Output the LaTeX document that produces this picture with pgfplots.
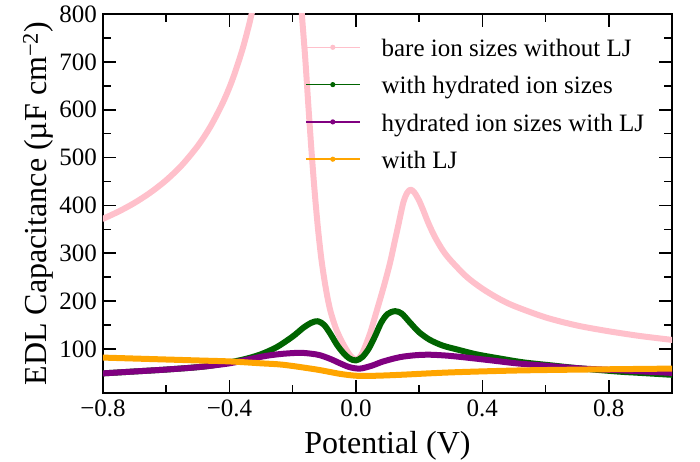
\documentclass[border=0pt]{standalone}
\usepackage{fontspec}
\setmainfont{Liberation Serif}
\usepackage{pgfplots}
\pgfplotsset{compat=1.18}
\definecolor{cpink}{RGB}{255,192,203}
\definecolor{cgreen}{RGB}{0,100,0}
\definecolor{cpurple}{RGB}{128,0,128}
\definecolor{corange}{RGB}{255,165,0}
\begin{document}
\begin{tikzpicture}
\begin{axis}[
  at={(0pt,0pt)}, anchor=south west,
  scale only axis, width=569pt, height=379pt,
  xmin=-0.8, xmax=1.0, ymin=8, ymax=800,
  xtick={-0.8,-0.4,0,0.4,0.8},
  xticklabels={−0.8,−0.4,0.0,0.4,0.8},
  minor xtick={-0.6,-0.2,0.2,0.6,1.0},
  ytick={100,200,300,400,500,600,700,800},
  yticklabels={100,200,300,400,500,600,700,800},
  minor ytick={50,150,250,350,450,550,650,750},
  tick align=inside,
  major tick length=13pt, minor tick length=8pt,
  every tick/.style={black, line width=1.6pt},
  axis line style={line width=1.2pt},
  tick label style={font=\fontsize{25}{30}\selectfont},
  xticklabel style={anchor=north, inner sep=0pt, yshift=-7pt},
  yticklabel style={anchor=east, inner sep=0pt, xshift=-6pt},
  xlabel={Potential (V)},
  ylabel={EDL Capacitance (µF cm\textsuperscript{−2})},
  label style={font=\fontsize{32}{37}\selectfont},
  xlabel style={at={(axis description cs:0.5,-0.159)}, anchor=base},
  ylabel style={at={(axis description cs:-0.0985,0.5)}, anchor=base},
  legend cell align=left,
  legend style={at={(axis description cs:0.355,0.9377)}, anchor=north west,
    draw=none, fill=none, inner sep=0pt, outer sep=0pt,
    row sep=17.9pt, column sep=21pt,
    font=\fontsize{25}{30}\selectfont,
    nodes={inner sep=0pt, text height=19pt, text depth=0.4pt}},
  legend image code/.code={
    \draw[line width=1.6pt, line cap=butt] (0pt,0pt) -- (54pt,0pt);
    \path[draw=none, fill] (27pt,0pt) circle (2.6pt);
  },
  every axis plot/.append style={line width=6pt, line join=round, line cap=round, no markers, smooth, tension=0.5},
]
% bare ion sizes without LJ, left branch
\addplot[color=cpink, forget plot] coordinates {
(-0.800,372.0) (-0.750,387.4) (-0.700,405.4) (-0.650,426.9) (-0.600,452.7)
(-0.550,484.5) (-0.500,524.5) (-0.460,564.9) (-0.420,615.9) (-0.390,663.8)
(-0.360,723.5) (-0.340,772.2) (-0.330,799.9) (-0.320,830.0)
};
% bare ion sizes without LJ, right branch
\addplot[color=cpink] coordinates {
(-0.175,840) (-0.171,800) (-0.160,705) (-0.150,605) (-0.140,510) (-0.130,425)
(-0.120,352) (-0.110,292) (-0.100,246) (-0.090,208) (-0.080,178) (-0.065,146)
(-0.050,123) (-0.035,104) (-0.020,88) (-0.010,81) (0.000,78) (0.010,81)
(0.023,95) (0.045,133) (0.066,180) (0.088,230) (0.108,280) (0.122,322)
(0.134,358) (0.150,406) (0.162,426) (0.173,433) (0.185,427) (0.200,410)
(0.213,390) (0.230,362) (0.250,334) (0.275,306) (0.300,285) (0.350,251)
(0.400,226) (0.450,206) (0.500,190) (0.600,166) (0.700,149) (0.800,137)
(0.900,127) (1.000,119)
};
\addlegendentry{bare ion sizes without LJ}
% with hydrated ion sizes
\addplot[color=cgreen] coordinates {
(-0.800,49) (-0.700,53) (-0.600,57) (-0.500,62) (-0.450,66) (-0.400,72)
(-0.350,79) (-0.300,89) (-0.250,104) (-0.200,126) (-0.165,145) (-0.140,155)
(-0.120,158) (-0.100,150) (-0.080,131) (-0.060,109) (-0.040,92) (-0.020,80)
(0.000,76) (0.020,83) (0.040,100) (0.060,126) (0.080,155) (0.100,173)
(0.124,179) (0.145,174) (0.170,156) (0.200,135) (0.234,119) (0.275,107)
(0.320,99) (0.380,89) (0.456,80) (0.530,72) (0.614,66) (0.700,60)
(0.825,53) (0.900,50) (1.000,46)
};
\addlegendentry{with hydrated ion sizes}
% hydrated ion sizes with LJ
\addplot[color=cpurple] coordinates {
(-0.800,49) (-0.700,53) (-0.600,57) (-0.500,62) (-0.400,70) (-0.335,79)
(-0.280,86) (-0.230,90) (-0.177,92) (-0.140,90) (-0.114,87) (-0.080,79)
(-0.050,70) (-0.020,62) (0.013,59) (0.050,65) (0.087,74) (0.140,83)
(0.190,87) (0.234,88) (0.290,86) (0.350,82) (0.430,76) (0.508,70)
(0.600,65) (0.720,59) (0.850,55) (1.000,50)
};
\addlegendentry{hydrated ion sizes with LJ}
% with LJ
\addplot[color=corange] coordinates {
(-0.800,82) (-0.651,79) (-0.500,76) (-0.400,74) (-0.300,70) (-0.230,67)
(-0.124,57) (-0.050,48) (0.003,44) (0.060,44) (0.140,46) (0.298,51)
(0.508,55) (0.720,57) (1.000,59)
};
\addlegendentry{with LJ}
\end{axis}
\pgfresetboundingbox
\path[use as bounding box] (-103pt,-69pt) rectangle (597pt,393pt);
\end{tikzpicture}
\end{document}
